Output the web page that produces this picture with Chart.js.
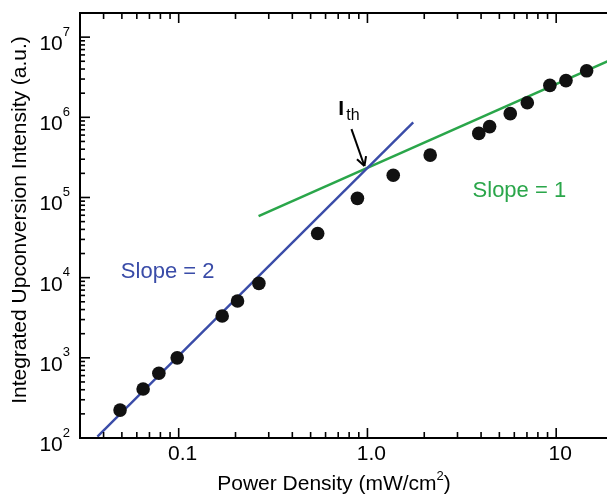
<!DOCTYPE html>
<html>
<head>
<meta charset="utf-8">
<script src="https://cdn.jsdelivr.net/npm/chart.js@4/dist/chart.umd.min.js"></script>
<style>
  html, body { margin: 0; padding: 0; background: #fff; overflow: hidden; }
  #wrap { width: 607px; height: 495px; overflow: hidden; }
</style>
</head>
<body>
<div id="wrap"><canvas id="chart" width="620" height="495"></canvas></div>
<script>
// measured points: power density (mW/cm2) vs integrated upconversion intensity (a.u.)
const powerDensity = [0.0489, 0.0648, 0.0785, 0.0982, 0.170, 0.205, 0.266, 0.545, 0.885,
  1.37, 2.15, 3.89, 4.44, 5.71, 7.03, 9.26, 11.27, 14.5];
const intensity = [223, 408, 641, 1000, 3320, 5110, 8490, 35600, 97500,
  1.89e5, 3.38e5, 6.3e5, 7.66e5, 1.11e6, 1.52e6, 2.5e6, 2.87e6, 3.8e6];

// fit lines (end points)
const slope2X = [0.0371, 1.748];
const slope2Y = [104, 8.63e5];
const slope1X = [0.265, 20];
const slope1Y = [5.86e4, 5.35e6];

// tick labels
const xTickValues = [0.1, 1, 10];
const xTickLabels = ['0.1', '1.0', '10'];
const yTickExponents = [2, 3, 4, 5, 6, 7];

const FONT = "'Liberation Sans', Arial, Helvetica, sans-serif";
const BLUE = '#3a4ca8';
const GREEN = '#2aa64a';

const toPoints = (xs, ys) => xs.map((x, i) => ({ x: x, y: ys[i] }));

// axes frame, inward ticks, labels and annotations
const axesPlugin = {
  id: 'axesPlugin',
  afterDatasetsDraw(chart) {
    const ctx = chart.ctx;
    const { left, right, top, bottom } = chart.chartArea;
    const xs = chart.scales.x;
    const ys = chart.scales.y;
    const seg = (x1, y1, x2, y2) => {
      ctx.beginPath();
      ctx.moveTo(x1, y1);
      ctx.lineTo(x2, y2);
      ctx.stroke();
    };
    ctx.save();
    ctx.strokeStyle = '#000';
    ctx.fillStyle = '#000';

    // frame
    ctx.lineWidth = 2;
    ctx.strokeRect(left, top, right - left, bottom - top);

    // ticks (bottom, top, left)
    ctx.lineWidth = 1.6;
    for (let e = -2; e <= 1; e++) {
      for (let m = 1; m <= 9; m++) {
        const v = m * Math.pow(10, e);
        if (v <= xs.min || v >= xs.max) continue;
        const px = xs.getPixelForValue(v);
        const len = m === 1 ? 10 : 6;
        seg(px, bottom, px, bottom - len);
        seg(px, top, px, top + len);
      }
    }
    for (let e = 2; e <= 7; e++) {
      for (let m = 1; m <= 9; m++) {
        const v = m * Math.pow(10, e);
        if (v < ys.min || v >= ys.max) continue;
        const py = ys.getPixelForValue(v);
        const len = m === 1 ? 10 : 5;
        seg(left, py, left + len, py);
      }
    }

    // x tick labels
    ctx.font = '21px ' + FONT;
    ctx.textAlign = 'center';
    ctx.textBaseline = 'alphabetic';
    xTickValues.forEach((v, i) => {
      ctx.fillText(xTickLabels[i], xs.getPixelForValue(v) + 4, bottom + 22);
    });

    // y tick labels: 10 with superscript exponent
    yTickExponents.forEach((e) => {
      const py = ys.getPixelForValue(Math.pow(10, e));
      ctx.font = '13px ' + FONT;
      const we = ctx.measureText(String(e)).width;
      ctx.textAlign = 'right';
      ctx.fillText(String(e), 70, py - 1.5);
      ctx.font = '21px ' + FONT;
      ctx.fillText('10', 70 - we, py + 13);
    });

    // axis titles
    ctx.font = '21px ' + FONT;
    ctx.textAlign = 'left';
    const t1 = 'Power Density (mW/cm';
    const w1 = ctx.measureText(t1).width;
    ctx.font = '13px ' + FONT;
    const w2 = ctx.measureText('2').width;
    ctx.font = '21px ' + FONT;
    const w3 = ctx.measureText(')').width;
    let tx0 = 334 - (w1 + w2 + w3) / 2;
    ctx.fillText(t1, tx0, 490);
    ctx.font = '13px ' + FONT;
    ctx.fillText('2', tx0 + w1, 480);
    ctx.font = '21px ' + FONT;
    ctx.fillText(')', tx0 + w1 + w2, 490);

    ctx.textAlign = 'center';
    ctx.save();
    ctx.translate(26, 220);
    ctx.rotate(-Math.PI / 2);
    ctx.fillText('Integrated Upconversion Intensity (a.u.)', 0, 0);
    ctx.restore();

    // slope annotations
    ctx.font = '22px ' + FONT;
    ctx.textAlign = 'left';
    ctx.fillStyle = BLUE;
    ctx.fillText('Slope = 2', xs.getPixelForValue(0.05) - 1, ys.getPixelForValue(1.0e4));
    ctx.fillStyle = GREEN;
    ctx.fillText('Slope = 1', xs.getPixelForValue(3.65) - 1, ys.getPixelForValue(1.0e5));

    // threshold label and arrow
    ctx.fillStyle = '#000';
    const ix = xs.getPixelForValue(0.71);
    const iy = ys.getPixelForValue(1.06e6);
    ctx.font = 'bold 21px ' + FONT;
    ctx.fillText('I', ix - 1, iy);
    const wi = ctx.measureText('I').width;
    ctx.font = '16px ' + FONT;
    ctx.fillText('th', ix + wi + 1, iy + 5);

    const tx = xs.getPixelForValue(0.823), ty = ys.getPixelForValue(7.13e5);
    const hx = xs.getPixelForValue(0.964), hy = ys.getPixelForValue(2.47e5);
    ctx.lineWidth = 2;
    seg(tx, ty, hx, hy);
    const ang = Math.atan2(hy - ty, hx - tx);
    const ah = 10;
    seg(hx, hy, hx - ah * Math.cos(ang - 0.5), hy - ah * Math.sin(ang - 0.5));
    seg(hx, hy, hx - ah * Math.cos(ang + 0.5), hy - ah * Math.sin(ang + 0.5));

    ctx.restore();
  }
};

new Chart(document.getElementById('chart'), {
  type: 'scatter',
  data: {
    datasets: [
      {
        label: 'Data',
        data: toPoints(powerDensity, intensity),
        backgroundColor: '#111',
        borderWidth: 0,
        pointRadius: 6.8,
      },
      {
        label: 'Slope = 2',
        data: toPoints(slope2X, slope2Y),
        showLine: true,
        borderColor: BLUE,
        borderWidth: 2.4,
        pointRadius: 0,
      },
      {
        label: 'Slope = 1',
        data: toPoints(slope1X, slope1Y),
        showLine: true,
        borderColor: GREEN,
        borderWidth: 2.6,
        pointRadius: 0,
      },
    ],
  },
  options: {
    responsive: false,
    animation: false,
    layout: { padding: { left: 80, top: 13, right: 7, bottom: 57 } },
    plugins: {
      legend: { display: false },
      tooltip: { enabled: false },
    },
    scales: {
      x: { type: 'logarithmic', min: 0.03, max: 20, bounds: 'data', display: false },
      y: { type: 'logarithmic', min: 100, max: 2e7, bounds: 'data', display: false },
    },
  },
  plugins: [axesPlugin],
});
</script>
</body>
</html>
